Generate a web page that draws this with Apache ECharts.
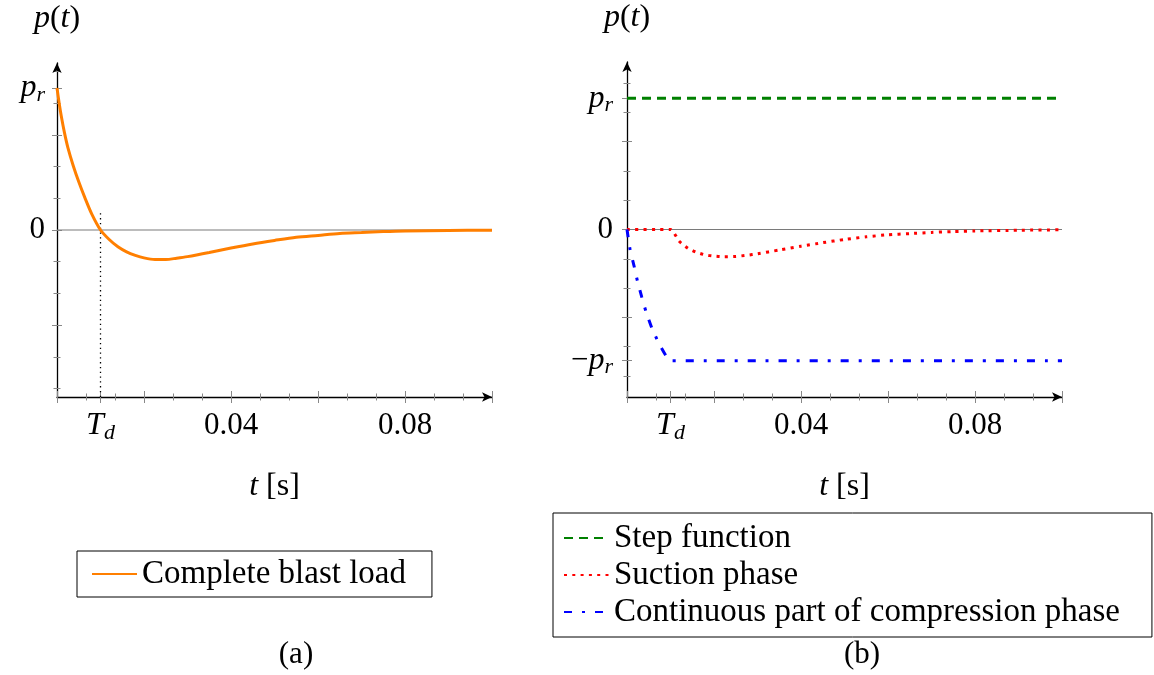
<!DOCTYPE html>
<html>
<head>
<meta charset="utf-8">
<script src="https://cdn.jsdelivr.net/npm/echarts@6/dist/echarts.min.js"></script>
<style>
html,body{margin:0;padding:0;background:#fff}
#chart{width:1154px;height:675px}
</style>
</head>
<body>
<div id="chart"></div>
<script>
// y values are in tick units, p_r sits at 4.48 of them
var PR = 4.48;
var TD = 0.01;

// (a) complete blast load
var blastT = [0, 0.0005, 0.001, 0.0017, 0.0025, 0.00375, 0.005, 0.0064, 0.008, 0.01, 0.012, 0.014, 0.016, 0.018, 0.02, 0.0225, 0.025, 0.0275, 0.03, 0.035, 0.04, 0.045, 0.05, 0.055, 0.06, 0.065, 0.07, 0.075, 0.08, 0.09, 0.1];
var blastP = [4.48, 4.0, 3.58, 3.08, 2.6, 2.02, 1.52, 1.02, 0.5, 0, -0.3, -0.53, -0.69, -0.8, -0.88, -0.93, -0.93, -0.89, -0.84, -0.71, -0.57, -0.44, -0.33, -0.23, -0.17, -0.11, -0.08, -0.05, -0.03, -0.015, -0.005];
var tdMarkT = [TD, TD];
var tdMarkP = [-5.27, 0.6];

// (b) decomposition
var stepT = [0, 0.1];
var stepP = [PR, PR];
var suctionT = [0, 0.01, 0.012, 0.014, 0.016, 0.018, 0.02, 0.022, 0.025, 0.0275, 0.03, 0.035, 0.04, 0.045, 0.05, 0.055, 0.06, 0.065, 0.07, 0.075, 0.08, 0.09, 0.1];
var suctionP = [0, 0, -0.4, -0.64, -0.78, -0.87, -0.91, -0.93, -0.92, -0.88, -0.83, -0.7, -0.57, -0.45, -0.34, -0.25, -0.18, -0.14, -0.1, -0.07, -0.05, -0.025, -0.01];
var contT = [0, 0.0007, 0.0016, 0.0024, 0.0034, 0.0044, 0.0057, 0.0072, 0.009, 0.01, 0.1];
var contP = [0, -0.68, -1.23, -1.76, -2.31, -2.82, -3.36, -3.85, -4.32, -4.48, -4.48];

// ticks
var xMajor = [0, 0.01, 0.02, 0.04, 0.06, 0.08, 0.1];
var xMinor = [0.02/3, 0.04/3, 0.08/3, 0.1/3, 0.14/3, 0.16/3, 0.2/3, 0.22/3, 0.26/3, 0.28/3];
var xLabels = [TD, 0.04, 0.08];
var yMinor = [-5, -4, -2, -1, 1, 2, 4, 5];
var yMajorA = [-3, 0, 3, PR];
var yLabelsA = [0, PR];
var yMajorB = [-PR, -3, 0, 3, PR];
var yLabelsB = [-PR, 0, PR];

var FONT = '"Liberation Serif", "DejaVu Serif", serif';
var rich = {
    i: {fontFamily: FONT, fontStyle: 'italic', fontSize: 32, lineHeight: 36, color: '#000'},
    s: {fontFamily: FONT, fontStyle: 'italic', fontSize: 22, lineHeight: 14, verticalAlign: 'bottom', color: '#000'}
};

function zip(a, b) {
    return a.map(function (v, k) { return [v, b[k]]; });
}

function xFmt(v) {
    if (Math.abs(v - TD) < 1e-9) return '{i|T}{s|d}';
    return v.toFixed(2);
}
function yFmt(v) {
    if (Math.abs(v - PR) < 1e-9) return '{i|p}{s|r}';
    if (Math.abs(v + PR) < 1e-9) return '\u2212{i|p}{s|r}';
    return String(v);
}

function tickAxis(dim, grid, vals, len, inside, min, max) {
    return {
        type: 'value', gridIndex: grid, min: min, max: max,
        position: dim === 'x' ? 'bottom' : 'left',
        axisLine: {show: false, onZero: false},
        axisLabel: {show: false},
        splitLine: {show: false},
        axisTick: {show: true, customValues: vals, inside: inside, length: len,
            lineStyle: {color: '#888', width: 1}}
    };
}

function xAxes(grid, labels) {
    return [{
        type: 'value', gridIndex: grid, min: 0, max: 0.1, position: 'bottom',
        name: '{i|t} [s]', nameLocation: 'middle', nameGap: 72,
        nameTextStyle: {fontFamily: FONT, fontSize: 32, lineHeight: 36, color: '#000', rich: rich},
        axisLine: {onZero: false, symbol: ['none', 'arrow'], symbolSize: [7, 10],
            lineStyle: {color: '#000', width: 1.3}},
        axisTick: {show: true, customValues: xMajor, length: 6, lineStyle: {color: '#888', width: 1}},
        axisLabel: {customValues: labels, margin: 11, fontFamily: FONT, fontSize: 31, lineHeight: 36,
            color: '#000', rich: rich, formatter: xFmt},
        splitLine: {show: false}
    },
        tickAxis('x', grid, xMajor, 6, true, 0, 0.1),
        tickAxis('x', grid, xMinor, 3.5, false, 0, 0.1),
        tickAxis('x', grid, xMinor, 3.5, true, 0, 0.1)
    ];
}

function yAxes(grid, lim, major, labels, margin) {
    return [{
        type: 'value', gridIndex: grid, min: -lim, max: lim, position: 'left',
        name: '{i|p}({i|t})', nameLocation: 'end', nameGap: 26,
        nameTextStyle: {fontFamily: FONT, fontSize: 32, lineHeight: 36, color: '#000', rich: rich},
        axisLine: {onZero: false, symbol: ['none', 'arrow'], symbolSize: [7, 10],
            lineStyle: {color: '#000', width: 1.3}},
        axisTick: {show: true, customValues: major, length: 5, lineStyle: {color: '#888', width: 1}},
        axisLabel: {customValues: labels, margin: margin, fontFamily: FONT, fontSize: 31, lineHeight: 36,
            color: '#000', rich: rich, formatter: yFmt},
        splitLine: {show: false}
    },
        tickAxis('y', grid, major, 5, true, -lim, lim),
        tickAxis('y', grid, yMinor, 3.5, false, -lim, lim),
        tickAxis('y', grid, yMinor, 3.5, true, -lim, lim)
    ];
}

function zeroLine(xi, yi) {
    return {
        type: 'line', xAxisIndex: xi, yAxisIndex: yi, data: [[0, 0], [0.1, 0]],
        symbol: 'none', silent: true, z: 1,
        lineStyle: {color: '#7a7a7a', width: 1.2}
    };
}

function legendBox(names, left, top, padding) {
    return {
        data: names,
        left: left, top: top,
        orient: 'vertical',
        padding: padding,
        itemWidth: 45, itemHeight: 14, itemGap: 1,
        itemStyle: {opacity: 0},
        borderColor: '#000', borderWidth: 1, borderRadius: 0,
        selectedMode: false,
        textStyle: {fontFamily: FONT, fontSize: 33, lineHeight: 36, color: '#000'}
    };
}

var chart = echarts.init(document.getElementById('chart'));

var option = {
    animation: false,
    backgroundColor: '#fff',
    grid: [
        {left: 57, top: 63, width: 435, height: 334},
        {left: 627, top: 62, width: 435, height: 335}
    ],
    xAxis: xAxes(0, xLabels).concat(xAxes(1, xLabels)),
    yAxis: yAxes(0, 5.27, yMajorA, yLabelsA, 12).concat(yAxes(1, 5.72, yMajorB, yLabelsB, 14)),
    legend: [
        legendBox(['Complete blast load'], 77, 551, [5, 26, 5, 14]),
        legendBox(['Step function', 'Suction phase', 'Continuous part of compression phase'], 553, 513, [7, 32, 7, 10])
    ],
    graphic: [
        {type: 'text', x: 296, y: 655, style: {text: '(a)', font: '31px "Liberation Serif"',
            fill: '#000', align: 'center', verticalAlign: 'middle'}},
        {type: 'text', x: 862, y: 655, style: {text: '(b)', font: '31px "Liberation Serif"',
            fill: '#000', align: 'center', verticalAlign: 'middle'}}
    ],
    series: [
        zeroLine(0, 0),
        {
            name: 'Td marker', type: 'line', xAxisIndex: 0, yAxisIndex: 0,
            data: zip(tdMarkT, tdMarkP), symbol: 'none', silent: true, z: 2,
            lineStyle: {color: '#000', width: 1.3, type: [1.3, 3.5]}
        },
        {
            name: 'Complete blast load', type: 'line', xAxisIndex: 0, yAxisIndex: 0,
            data: zip(blastT, blastP), symbol: 'none', smooth: 0.3, z: 3,
            color: '#ff7f00', itemStyle: {opacity: 0}, lineStyle: {color: '#ff7f00', width: 3}
        },
        zeroLine(4, 4),
        {
            name: 'Step function', type: 'line', xAxisIndex: 4, yAxisIndex: 4,
            data: zip(stepT, stepP), symbol: 'none', z: 3,
            color: '#008000', itemStyle: {opacity: 0}, lineStyle: {color: '#008000', width: 3, type: [9, 6]}
        },
        {
            name: 'Suction phase', type: 'line', xAxisIndex: 4, yAxisIndex: 4,
            data: zip(suctionT, suctionP), symbol: 'none', smooth: 0.2, z: 3,
            color: '#ff0000', itemStyle: {opacity: 0}, lineStyle: {color: '#ff0000', width: 3, type: [3, 5.3]}
        },
        {
            name: 'Continuous part of compression phase', type: 'line', xAxisIndex: 4, yAxisIndex: 4,
            data: zip(contT, contP), symbol: 'none', smooth: 0.15, z: 3,
            color: '#0000ff', itemStyle: {opacity: 0}, lineStyle: {color: '#0000ff', width: 3, type: [8, 10, 3, 10]}
        }
    ]
};

chart.setOption(option);
</script>
</body>
</html>
